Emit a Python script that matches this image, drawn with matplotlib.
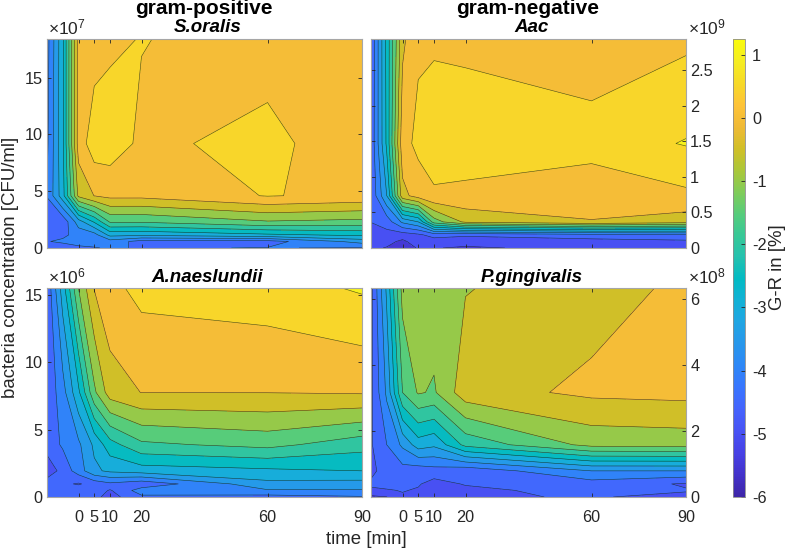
import numpy as np
import matplotlib
matplotlib.use("Agg")
import matplotlib.pyplot as plt
from matplotlib.colors import LinearSegmentedColormap, Normalize
from matplotlib.cm import ScalarMappable

plt.rcParams['font.family'] = ['Liberation Sans', 'DejaVu Sans']
plt.rcParams['mathtext.fontset'] = 'custom'
plt.rcParams['mathtext.rm'] = 'Liberation Sans'
plt.rcParams['axes.unicode_minus'] = False

# time points, same for all panels
times = [-10, -5, 0, 5, 10, 20, 60, 90]
time_ticks = [0, 5, 10, 20, 60, 90]

# concentrations (top to bottom), in units of the axis exponent
conc_soralis = [18.4, 9.2, 4.6, 2.3, 1.15, 0.575, 0]
conc_aac = [2.94, 1.47, 0.735, 0.3675, 0.184, 0.092, 0]
conc_naes = [15.5, 7.76, 3.88, 1.94, 0.97, 0.485, 0]
conc_ging = [6.32, 3.16, 1.58, 0.79, 0.395, 0.2, 0]

# G-R values, one list per time point, rows follow the conc lists
gr_soralis = [
    [-4.2, -4.1, -3.98, -4.3, -4.4, -4.03, -4.3],
    [-2.6, -2.6, -2.7, -4.37, -4.12, -3.9, -4.3],
    [0.2, 0.23, -0.39, -3.25, -3.8, -3.75, -4.13],
    [0.27, 0.78, 0.01, -2.45, -3.7, -3.75, -4.04],
    [0.402, 0.764, 0.14, -1.45, -2.85, -3.71, -3.93],
    [0.52, 0.40, 0.138, -1.45, -2.9, -4.2, -4.05],
    [0.28, 0.642, 0.525, -1.05, -2.6, -4.2, -3.98],
    [0.3, 0.152, 0.378, -1.15, -2.4, -3.3, -4.04],
]
gr_aac = [
    [-4.45, -4.4, -4.45, -4.49, -4.7, -4.8, -4.9],
    [-2.35, -2.4, -3.0, -4.3, -4.65, -4.85, -5.03],
    [-0.11, 0.33, -0.17, -3.4, -4.75, -5.1, -5.3],
    [0.424, 0.62, 0.233, -3.0, -4.6, -4.75, -4.95],
    [0.474, 0.6, 0.473, -1.25, -4.3, -4.75, -4.98],
    [0.405, 0.75, 0.395, -0.39, -4.4, -4.85, -5.05],
    [0.137, 0.75, 0.10, -0.01, -4.2, -4.7, -4.89],
    [0.4, 1.03, 0.4, -0.25, -4.1, -4.6, -4.8],
]
gr_naes = [
    [-4.4, -4.4, -4.3, -4.8, -4.25, -4.2, -4.2],
    [-2.75, -3.7, -3.93, -4.33, -4.4, -4.2, -4.2],
    [-1.0, -2.6, -3.6, -3.76, -4.55, -4.2, -4.2],
    [0.02, -1.1, -2.9, -3.1, -4.3, -4.2, -4.35],
    [0.36, -0.24, -2.2, -2.9, -4.1, -4.55, -4.7],
    [0.65, 0.01, -1.6, -2.75, -4.35, -3.75, -4.1],
    [0.78, 0.01, -1.35, -2.6, -3.15, -3.55, -4.2],
    [1.06, 0.05, -1.8, -2.5, -3.2, -3.55, -4.05],
]
gr_ging = [
    [-4.65, -4.6, -4.55, -4.65, -4.4, -4.6, -5.1],
    [-2.9, -3.4, -4.0, -4.24, -4.3, -4.55, -5.01],
    [-0.8, -1.5, -3.4, -4.2, -4.4, -4.47, -4.57],
    [-0.75, -0.95, -2.75, -4.3, -4.45, -4.55, -4.7],
    [-0.7, -1.06, -2.9, -4.2, -4.7, -4.7, -4.75],
    [-0.527, -0.2, -1.85, -4.35, -4.46, -4.63, -4.55],
    [-0.2, 0.1, -0.85, -3.5, -4.22, -4.3, -4.47],
    [0.1, 0.15, -0.8, -3.5, -4.55, -4.47, -4.6],
]

levels = np.arange(-6, 2.0, 0.5)
cbar_ticks = [-6, -5, -4, -3, -2, -1, 0, 1]

# parula
parula = LinearSegmentedColormap.from_list('parula', [
    (0.2422, 0.1504, 0.6603), (0.2647, 0.1978, 0.7952), (0.2783, 0.2559, 0.8991),
    (0.2810, 0.3228, 0.9579), (0.2699, 0.3892, 0.9906), (0.2206, 0.4603, 0.9973),
    (0.1786, 0.5289, 0.9682), (0.1540, 0.5902, 0.9218), (0.1248, 0.6459, 0.8883),
    (0.0689, 0.6948, 0.8394), (0.0067, 0.7312, 0.7660), (0.1408, 0.7584, 0.6842),
    (0.2161, 0.7843, 0.5923), (0.3406, 0.8008, 0.4789), (0.5044, 0.7993, 0.3480),
    (0.6720, 0.7793, 0.2227), (0.8203, 0.7498, 0.1535), (0.9393, 0.7288, 0.2100),
    (0.9970, 0.7659, 0.2199), (0.9676, 0.8518, 0.1538), (0.9610, 0.9300, 0.1300),
    (0.9763, 0.9831, 0.0538)], N=256)
norm = Normalize(vmin=-6, vmax=1.25)
# each band takes the colour of its lower level, as matlab's contourf does
band_colors = [parula(norm(v)) for v in levels[:-1]]

W, H = 789, 552
dark = '#262626'
fs_tick = 11.7
fs_label = 13.4


def axes_px(x0, y0, x1, y1):
    return fig.add_axes([x0 / W, 1 - y1 / H, (x1 - x0) / W, (y1 - y0) / H])


def panel(box, conc, gr, name, yticks, ylabels, expo, right, bottom):
    ax = axes_px(*box)
    z = np.array(gr).T[::-1]
    y = np.array(conc)[::-1]
    ax.contourf(times, y, z, levels=levels, colors=band_colors)
    ax.contour(times, y, z, levels=levels, colors='#1a1a1a', linewidths=0.4, alpha=0.8,
               linestyles='solid')
    ax.set_xlim(-10, 90)
    ax.set_ylim(0, conc[0])
    ax.set_xticks(time_ticks)
    ax.set_yticks(yticks)
    ax.set_yticklabels(ylabels)
    ax.tick_params(direction='in', length=3, width=0.6, color=dark, labelcolor=dark,
                   labelsize=fs_tick, top=True, right=True, pad=3,
                   labelbottom=bottom, labelleft=not right, labelright=right)
    ax.tick_params(axis='x', pad=9)
    for s in ax.spines.values():
        s.set_color('#a6a6a6')
        s.set_linewidth(0.8)
    fig.text((box[0] + box[2]) / 2 / W + 3 / W, 1 - (box[1] - 11) / H, name, ha='center', va='center',
             fontsize=13.5, fontweight='bold', fontstyle='italic', color='k')
    ex = box[2] + 2 if right else box[0] + 1
    fig.text(ex / W, 1 - (box[1] - 5) / H, r'$\mathregular{\times 10^{%d}}$' % expo,
             ha='left', va='baseline', fontsize=fs_tick + 0.8, color=dark)
    return ax


fig = plt.figure(figsize=(W / 100, H / 100), dpi=100, facecolor='white')

panel((47, 39, 362, 248), conc_soralis, gr_soralis, 'S.oralis',
      [0, 5, 10, 15], ['0', '5', '10', '15'], 7, False, False)
panel((371, 39, 686, 248), conc_aac, gr_aac, 'Aac',
      [0, 0.5, 1, 1.5, 2, 2.5], ['0', '0.5', '1', '1.5', '2', '2.5'], 9, True, False)
panel((47, 288, 362, 497), conc_naes, gr_naes, 'A.naeslundii',
      [0, 5, 10, 15], ['0', '5', '10', '15'], 6, False, True)
panel((371, 288, 686, 497), conc_ging, gr_ging, 'P.gingivalis',
      [0, 2, 4, 6], ['0', '2', '4', '6'], 8, True, True)

fig.text(204 / W, 1 - 9 / H, 'gram-positive', ha='center', va='center',
         fontsize=15, fontweight='bold', color='k')
fig.text(528 / W, 1 - 9 / H, 'gram-negative', ha='center', va='center',
         fontsize=15, fontweight='bold', color='k')
fig.text(366 / W, 1 - 540 / H, 'time [min]', ha='center', va='center',
         fontsize=fs_label, color=dark)
fig.text(11 / W, 1 - 267 / H, 'bacteria concentration [CFU/ml]', rotation=90,
         ha='center', va='center', fontsize=fs_label, color=dark)

# colorbar
cax = axes_px(733, 39, 745, 497)
cb = fig.colorbar(ScalarMappable(norm=norm, cmap=parula), cax=cax, ticks=cbar_ticks)
cb.ax.tick_params(direction='in', length=3, width=0.6, color=dark, labelcolor=dark,
                  labelsize=fs_tick, pad=5)
cb.outline.set_edgecolor('#8c8c8c')
cb.outline.set_linewidth(0.6)
fig.text(778 / W, 1 - 267 / H, 'G-R in [%]', rotation=90, ha='center', va='center',
         fontsize=fs_label, color=dark)

fig.savefig('out.png', dpi=100)
